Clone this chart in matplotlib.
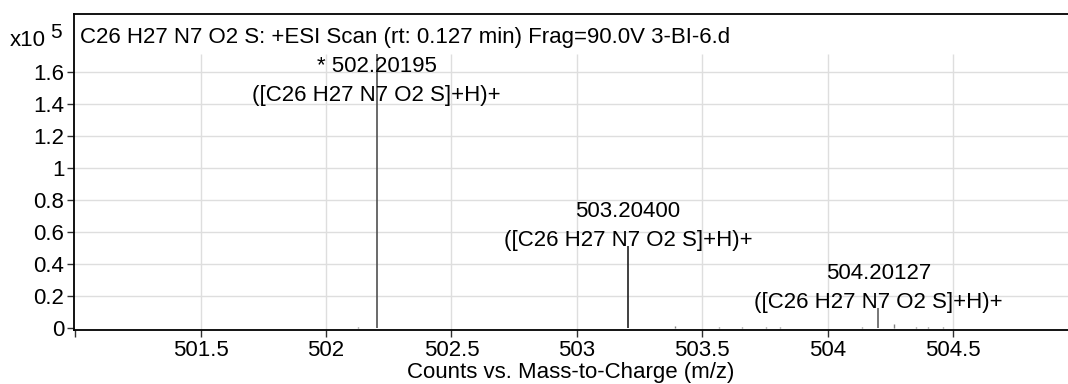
import matplotlib.pyplot as plt
from matplotlib.ticker import FixedLocator

plt.rcParams["font.family"] = ["Liberation Sans", "DejaVu Sans"]

# Centroided peaks (m/z, counts)
peak_mz = [502.20195, 503.20400, 504.20127]
peak_counts = [171500, 51300, 12700]
peak_labels = ["* 502.20195", "503.20400", "504.20127"]
ion_label = "([C26 H27 N7 O2 S]+H)+"

# Small background signals
noise_mz = [502.128, 503.39, 503.565, 503.66, 503.755, 503.81,
            504.135, 504.263, 504.35, 504.40, 504.46]
noise_counts = [900, 1300, 700, 800, 900, 700, 800, 3000, 900, 800, 900]

x_ticks = [501.0, 501.5, 502.0, 502.5, 503.0, 503.5, 504.0, 504.5]
x_ticklabels = ["", "501.5", "502", "502.5", "503", "503.5", "504", "504.5"]
y_ticks = [0, 20000, 40000, 60000, 80000, 100000, 120000, 140000, 160000]
y_ticklabels = ["0", "0.2", "0.4", "0.6", "0.8", "1", "1.2", "1.4", "1.6"]

title = "C26 H27 N7 O2 S: +ESI Scan (rt: 0.127 min) Frag=90.0V 3-BI-6.d"
FS = 16

fig = plt.figure(figsize=(10.68, 3.84), dpi=100)
ax = fig.add_axes([0.0693, 0.1406, 0.9307, 0.8229])
ax.set_xlim(500.995, 504.958)
ax.set_ylim(-1000, 196200)

grid_top = max(peak_counts)
grid_kw = dict(color="#dedede", linewidth=1.0, zorder=0)
for x in x_ticks[1:]:
    ax.vlines(x, ax.get_ylim()[0], grid_top, **grid_kw)
for y in y_ticks[1:]:
    ax.axhline(y, **grid_kw)

ax.vlines(noise_mz, 0, noise_counts, color="#808080", linewidth=1.0, zorder=2)
ax.vlines(peak_mz, 0, peak_counts, color=["#505050", "#202020", "#606060"],
          linewidth=1.2, zorder=2)

# Annotations sit on each peak top, capped below the header band
for mz, counts, lab in zip(peak_mz, peak_counts, peak_labels):
    y = min(counts, 142000)
    ax.annotate(lab + "\n" + ion_label, xy=(mz, y), xytext=(0, -3.5),
                textcoords="offset points", ha="center", va="bottom",
                fontsize=FS, linespacing=1.5, zorder=3)

ax.text(0.006, 0.925, title, transform=ax.transAxes, ha="left",
        va="center", fontsize=FS)

ax.xaxis.set_major_locator(FixedLocator(x_ticks))
ax.set_xticklabels(x_ticklabels)
ax.set_yticks(y_ticks)
ax.set_yticklabels(y_ticklabels)
ax.tick_params(axis="both", labelsize=FS, length=5, width=1.0,
               color="#303030", direction="out", pad=2)
ax.set_xlabel("Counts vs. Mass-to-Charge (m/z)", fontsize=FS, labelpad=1)

for side in ("left", "bottom", "top"):
    ax.spines[side].set_linewidth(1.3)
    ax.spines[side].set_color("black")
ax.spines["right"].set_visible(False)

fig.text(10 / 1068, 1 - 40 / 384, "x10", fontsize=FS, ha="left", va="center")
fig.text(50 / 1068, 1 - 33 / 384, "5", fontsize=FS - 1, ha="left", va="center")

fig.savefig("out.png", dpi=100)
